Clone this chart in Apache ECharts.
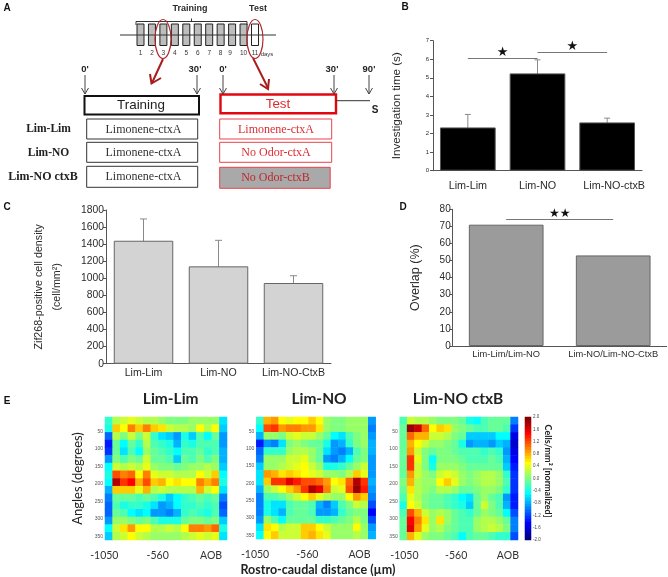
<!DOCTYPE html>
<html>
<head>
<meta charset="utf-8">
<style>html,body{margin:0;padding:0;background:#fff}#c{width:668px;height:577px}</style>
<script src="https://cdn.jsdelivr.net/npm/echarts@6/dist/echarts.min.js"></script>
</head>
<body>
<div id="c"></div>
<script>
// ---- Panel A labels
const dayLabels = ['1','2','3','4','5','6','7','8','9','10','11'];
const groupLabels = ['Lim-Lim','Lim-NO','Lim-NO ctxB'];
const trainingCells = ['Limonene-ctxA','Limonene-ctxA','Limonene-ctxA'];
const testCells = ['Limonene-ctxA','No Odor-ctxA','No Odor-ctxB'];

// ---- Panel B
const bCategories = ['Lim-Lim','Lim-NO','Lim-NO-ctxB'];
const bValues = [2.33,5.24,2.6];
const bErrorTops = [3.03,5.97,2.83];

// ---- Panel C
const cCategories = ['Lim-Lim','Lim-NO','Lim-NO-CtxB'];
const cValues = [1440,1140,945];
const cErrorTops = [1695,1445,1030];

// ---- Panel D
const dCategories = ['Lim-Lim/Lim-NO','Lim-NO/Lim-NO-CtxB'];
const dValues = [71,53];

// ---- Panel E (rows top to bottom, columns rostral to caudal; normalized cells/mm2)
const distanceLabels = ['-1050','','','','','','','-560','','','','','','','AOB',''];
const angleRows = ['0','22','45','67','90','112','135','157','180','202','225','247','270','292','315','337'];
const angleTicks = [50,100,150,200,250,300,350];
const scaleLevels = [2,1.9,1.8,1.7,1.6,1.5,1.4,1.3,1.2,1.1,1,.9,.8,.7,.6,.5,.4,.3,.2,.1,0,-.1,-.2,-.3,-.4,-.5,-.6,-.7,-.8,-.9,-1,-1.1,-1.2,-1.3,-1.4,-1.5,-1.6,-1.7,-1.8,-1.9,-2];
const heatLimLim = [
[-.3,.2,.3,.4,.3,.2,.2,.1,0,0,0,.1,.1,.1,.1,-.6],
[-.4,.7,.5,1,.7,1,.7,.6,.3,.2,.2,.1,.5,.2,.5,-.7],
[-1.1,.2,0,.3,0,.3,-.3,-.6,-.7,-.9,-.4,-.7,-.2,-.5,-.1,-.9],
[-1.4,-.1,-.5,-.1,-.3,.2,-.2,-.3,-.4,-.8,-.3,-.4,-.2,-.2,-.2,-.9],
[-1.3,-.1,-.6,-.2,-.5,.1,-.1,-.2,-.3,-.5,-.2,-.2,-.1,-.3,-.2,-.8],
[-.9,0,-.2,0,-.1,.3,-.1,-.1,-.2,-.7,-.1,-.2,0,-.2,0,-.8],
[-.5,.3,.2,.3,.2,.4,.1,0,0,-.1,0,.1,.1,.2,.1,-.7],
[-.4,1.2,1,1.1,.5,1,.4,.3,.3,.2,.2,.2,.5,.3,.7,-.5],
[-.5,1.8,1.3,1.5,.8,1.2,.7,.8,.5,.6,.5,.5,1,.8,1,-.4],
[-.8,.7,.7,.7,.4,.8,.2,.3,.2,.2,.2,.2,.8,.3,.5,-.6],
[-1,-.1,-.1,-.1,-.2,-.1,-.2,-.4,-.7,-.5,-.3,-.2,-.1,-.2,-.1,-1],
[-1.1,-.2,-.4,-.3,-.3,-.4,-.6,-.9,-.8,-.5,-.3,-.3,-.2,-.3,-.2,-1.2],
[-1.1,-.1,-.2,-.5,-.6,-.5,-.9,-.9,-1,-.8,-.3,-.2,-.3,-.4,-.2,-1.1],
[-.9,.1,.1,0,-.1,0,-.2,-.4,-.4,-.4,-.1,0,0,-.1,0,-.7],
[-.5,.3,.6,.9,.5,.5,.2,.2,.3,.2,.5,1,1,.9,1.1,-.4],
[-.7,.2,.3,.5,.3,.2,.1,.1,.1,.1,.2,.3,.4,.3,.4,-.6]];
const heatLimNO = [
[-.3,.8,.9,.5,.4,.5,.5,.7,.5,.1,0,0,.1,.1,.1,-.9],
[-.5,1.2,1.3,.9,1,1,.9,.9,.6,.1,0,0,.1,.1,.1,-1],
[-.8,.1,.1,0,.3,.4,.3,.3,.1,-.1,-.5,-.6,-.2,0,.1,-.9],
[-1.4,-.9,-1,-.6,0,.1,0,-.1,-.1,-.4,-.9,-.8,-.3,0,.1,-.8],
[-1.1,-.3,-.3,-.3,.1,.2,.2,.1,-.1,-.6,-.9,-1,-.8,-.2,0,-.8],
[-1,.1,.1,.1,.3,.3,.4,.1,-.1,-.9,-1,-.8,-.5,-.1,0,-.9],
[-.7,.1,.1,.2,.3,.4,.5,.3,.1,-.4,-.4,-.3,-.1,.1,.3,-.9],
[-.6,.9,.8,.6,.7,.6,.5,.4,.3,.1,.1,0,.2,.7,.4,-.9],
[-.6,.7,1.3,1.3,1.6,1.4,1.2,1.2,1.1,.9,.5,.6,1.1,1.8,1.3,-.8],
[-.8,.1,.3,.5,.7,.9,1.3,1.8,1.6,1,.3,.4,1.2,1.9,1.4,-.9],
[-1,-.2,-.2,-.1,.1,.3,.5,.7,.4,.2,.1,.1,.5,.9,.7,-1],
[-1,-.4,-.6,-.6,-.2,-.1,-.1,-.2,-.8,-1,-.7,-.2,0,.3,.2,-1.2],
[-1,-.4,-.6,-.8,-.2,-.1,-.1,-.2,-.9,-.9,-.8,-.3,-.1,0,0,-1.5],
[-.9,.1,-.2,-.5,-.1,-.1,-.1,-.1,-.3,-.3,-.2,-.1,0,.2,0,-1.2],
[-.6,.6,.5,.2,.3,.3,.7,.7,.5,.3,.1,.1,.1,.5,.1,-.9],
[-.5,.5,.7,.3,.3,.3,.7,.8,.6,.4,.1,.1,.1,.2,.1,-.8]];
const heatLimNOctxB = [
[-.2,.3,.2,.2,.1,0,0,0,-.1,-.4,-.5,-.2,-.1,-.1,-.1,-1],
[-.1,1.9,1.7,1.1,.5,.7,.6,.1,0,-.1,-.2,-.2,-.1,-.1,-.2,-1.3],
[-.1,1.1,.8,.8,.3,.3,.2,0,-.1,-.7,-.7,-.7,-.7,-.5,-.5,-1.6],
[-.1,.8,.5,.3,.1,.1,0,-.1,-.4,-.9,-.8,-.8,-.9,-.7,-.8,-1.7],
[-.1,.9,.3,0,-.1,0,0,-.1,-.2,-.2,-.2,-.3,-.2,-.3,-.9,-1.6],
[-.1,1.3,.4,0,-.5,0,0,0,-.1,-.2,-.2,-.2,-.1,-.2,-.8,-1.5],
[-.1,1.3,.3,0,-.4,.1,.1,.1,0,-.1,-.1,-.1,-.1,-.1,-.7,-1.4],
[-.1,.9,.3,.1,0,.3,.4,.3,.1,0,.1,.2,.2,.1,-.3,-1.3],
[0,.8,.2,.1,.1,.5,.7,.4,.1,0,.1,.2,.2,.1,-.2,-1.3],
[-.1,.6,.2,.1,0,.2,.2,.1,-.1,-.1,0,.1,.1,0,-.3,-1.3],
[-.2,.4,.2,0,-.1,-.1,-.2,-.3,-.5,-.6,-.1,.1,-.1,-.2,-.9,-1.4],
[-.4,.5,.3,0,-.1,-.1,-.2,-.3,-.4,-.7,-.1,.3,0,-.2,-.8,-1.4],
[-.2,1.2,.8,.3,.1,.2,.1,-.1,-.2,-.3,-.1,.1,0,-.1,-.5,-1.2],
[-.1,1.5,1,.6,.1,.6,.1,-.1,-.2,-.2,.1,.2,.2,.1,-.1,-1],
[-.1,1.6,.9,.4,.1,.2,0,-.1,-.2,-.2,.1,.2,.3,.2,0,-1],
[-.1,.8,.4,.1,0,0,-.1,-.2,-.5,-.2,-.1,-.1,-.2,-.3,-.3,-1.2]];
const heatTitles = ['Lim-Lim','Lim-NO','Lim-NO ctxB'];

const SANS = '"Liberation Sans",Arial,sans-serif';
const SERIF = '"Liberation Serif",serif';
const CAL = 'Lato,"Open Sans",sans-serif';
const DARK = '#2b2b2b';

// ---------- helpers for the schematic panel A
const g = [];
const text = (x,y,t,o={}) => g.push({type:'text',x,y,rotation:o.rot||0,z:o.z||10,style:{
  text:t,fill:o.fill||DARK,font:`${o.weight||'normal'} ${o.size||10}px ${o.family||SANS}`,
  textAlign:o.align||'center',textVerticalAlign:'middle'}});
const line = (x1,y1,x2,y2,stroke,w=1) => g.push({type:'line',z:5,shape:{x1,y1,x2,y2},style:{stroke,lineWidth:w}});
const rect = (x,y,w,h,stroke,lw,fill='#fff') => g.push({type:'rect',z:4,shape:{x,y,width:w,height:h},style:{stroke,lineWidth:lw,fill}});

// panel letters
[['A',7,8],['B',405,7],['C',7,207],['D',403,207],['E',7,401]].forEach(a=>text(a[1],a[2],a[0],{weight:'bold',size:10,family:SANS,fill:'#111'}));

// timeline
line(120,35,276,35,'#333',1);
dayLabels.forEach((d,i)=>{
  const x = 137 + i*11.45;
  rect(x,24,7,21.5,'#222',1, i===10?'#fff':'#bdbdbd');
  text(x+3.5+(i===8?-2:0),53.5,d,{size:6.5,fill:'#333'});
});
text(267,54,'days',{size:6,fill:'#333'});
g.push({type:'polyline',z:5,shape:{points:[[136,25],[136,21.5],[247,21.5],[247,25]]},style:{stroke:'#333',lineWidth:1,fill:'none'}});
line(191.5,21.5,191.5,18.5,'#333',1);
text(190,9,'Training',{weight:'bold',size:9,family:SANS});
text(258,9,'Test',{weight:'bold',size:9,family:SANS});
[[163,39],[255,39]].forEach(c=>g.push({type:'ellipse',z:6,shape:{cx:c[0],cy:c[1],rx:8,ry:19.5},style:{stroke:'#b3262b',lineWidth:1.2,fill:'none'}}));
// red arrows
const RED2='#a81c1c';
line(163,59,152,83,RED2,2);
g.push({type:'polyline',z:6,shape:{points:[[150,74],[151.5,83.5],[161,78]]},style:{stroke:RED2,lineWidth:2,fill:'none'}});
line(253,58,268,88,RED2,2);
g.push({type:'polyline',z:6,shape:{points:[[260,84],[268,89],[269,79]]},style:{stroke:RED2,lineWidth:2,fill:'none'}});
// time arrows
[[85,"0'"],[197,"30'"],[223,"0'"],[334,"30'"],[369,"90'"]].forEach(t=>{
  text(t[0]+(t[1]==="30'"?-2:0),69.5,t[1],{weight:'bold',size:9.5,family:SANS,fill:'#222'});
  line(t[0],75,t[0],94,'#444',1);
  g.push({type:'polyline',z:6,shape:{points:[[t[0]-3.5,88],[t[0],94],[t[0]+3.5,88]]},style:{stroke:'#444',lineWidth:1,fill:'none'}});
});
rect(84.5,96,114.5,18.5,'#111',2);
text(141,105.5,'Training',{size:13.4,fill:'#222'});
rect(220.5,94.5,115.5,18.8,'#e3060f',2.4);
text(278,104.5,'Test',{size:13.4,fill:'#e02a2a'});
line(336,100.7,370,100.7,'#333',1);
text(375,110,'S',{weight:'bold',size:10,fill:'#222'});
const rowY=[119,142.3,166.3], rowH=[20,20,21];
groupLabels.forEach((t,i)=>{
  text(i===2?43:48.5,rowY[i]+10.5,t,{weight:'bold',size:i===2?12:11.5,family:SERIF,fill:'#222'});
  rect(86.7,rowY[i],111,rowH[i],'#333',1);
  text(143.5,rowY[i]+10.5,trainingCells[i],{size:12,family:SERIF,fill:'#333'});
  const grey=i===2;
  rect(219.7,rowY[i]+(grey?1:0),grey?110.5:112,rowH[i],'#e8434a',1,grey?'#a9a9a9':'#fff');
  text(grey?275.5:276,rowY[i]+(grey?11.5:10.5),testCells[i],{size:12,family:SERIF,fill:grey?'#c0272d':'#dd2c33'});
});
text(548,471,'Cells/mm\u00B2 [normalized]',{rot:-Math.PI/2,size:9,family:CAL,fill:'#222',weight:'bold'});

// ---------- bar charts
const grids=[], xAxes=[], yAxes=[], series=[];
function errorSeries(idx,tops,color,cap){
  return {type:'custom',xAxisIndex:idx,yAxisIndex:idx,z:1,silent:true,
    data:tops.map((t,i)=>[i,t]),
    renderItem(p,api){
      const top=api.coord([api.value(0),api.value(1)]);
      const base=api.coord([api.value(0),0]);
      const st={stroke:color,lineWidth:1};
      return {type:'group',children:[
        {type:'line',shape:{x1:top[0],y1:top[1],x2:top[0],y2:base[1]},style:st},
        {type:'line',shape:{x1:top[0]-cap,y1:top[1],x2:top[0]+cap,y2:top[1]},style:st}]};
    }};
}
function barPanel(o){
  const i=grids.length;
  grids.push({left:o.l,top:o.t,width:o.w,height:o.h});
  xAxes.push({type:'category',gridIndex:i,data:o.cats,
    axisLine:{lineStyle:{color:'#555',width:1}},axisTick:{show:false},
    axisLabel:Object.assign({color:DARK,fontFamily:SANS,fontSize:o.catSize,margin:o.catMargin,interval:0},o.catExtra||{})});
  yAxes.push({type:'value',gridIndex:i,min:0,max:o.max,interval:o.step,
    name:o.name,nameLocation:'middle',nameGap:o.nameGap,
    nameTextStyle:{color:DARK,fontFamily:SANS,fontSize:o.nameSize,lineHeight:o.nameLH||14},
    axisLine:{show:true,lineStyle:{color:'#555',width:1}},axisTick:{show:true,length:o.tick,lineStyle:{color:'#555'}},
    splitLine:{show:false},
    axisLabel:{color:DARK,fontFamily:SANS,fontSize:o.tickSize,margin:o.tickMargin,formatter:v=>String(v)}});
  if(o.tops) series.push(errorSeries(i,o.tops,'#8a8a8a',o.cap));
  series.push({type:'bar',xAxisIndex:i,yAxisIndex:i,data:o.vals,barWidth:o.barW,z:2,silent:true,
    itemStyle:{color:o.fill,borderColor:o.border,borderWidth:o.bw},
    markLine:o.sig?{silent:true,symbol:'none',animation:false,lineStyle:{color:'#777',width:1,type:'solid'},
      label:{show:true,position:'middle',formatter:p=>p.name,color:'#111',fontSize:o.starSize,fontFamily:'"DejaVu Sans"',distance:-1},
      data:o.sig}:undefined});
}
barPanel({l:433,t:40.7,w:209,h:130,cats:bCategories,vals:bValues,tops:bErrorTops,max:7,step:1,
  fill:'#000',border:'#555',bw:1,barW:55.7,cap:3,catSize:10.8,catMargin:10,
  catExtra:{formatter:(v,i)=>i===2?`{r|${v}}`:v,rich:{r:{padding:[0,0,0,14],fontSize:10.8,fontFamily:SANS,color:DARK}}},
  tick:3,tickSize:6,tickMargin:4,name:'Investigation time (s)',nameGap:29,nameSize:11.6,starSize:13,
  sig:[[{name:'\u2605',coord:['Lim-Lim',6.07]},{coord:['Lim-NO',6.07]}],
       [{name:'\u2605',coord:['Lim-NO',6.4]},{coord:['Lim-NO-ctxB',6.4]}]]});
barPanel({l:106,t:210,w:225,h:153.7,cats:cCategories,vals:cValues,tops:cErrorTops,max:1800,step:200,
  fill:'#d3d3d3',border:'#666',bw:1,barW:59.5,cap:3.5,catSize:10.6,catMargin:4,
  tick:3,tickSize:10.3,tickMargin:2,name:'Zif268-positive cell density\n(cell/mm\u00B2)',nameGap:40,nameLH:18,nameSize:10.7});
barPanel({l:452.7,t:209.3,w:214,h:136.7,cats:dCategories,vals:dValues,max:80,step:10,
  fill:'#9b9b9b',border:'#666',bw:1,barW:74.7,catSize:9.3,catMargin:4,
  tick:3,tickSize:10,tickMargin:2,name:'Overlap (%)',nameGap:30,nameSize:12.5,starSize:12,
  sig:[[{name:'\u2605\u2605',coord:['Lim-Lim/Lim-NO',74.3]},{coord:['Lim-NO/Lim-NO-CtxB',74.3]}]]});

// ---------- heat maps
const heatGeom=[{l:105,w:122,pad:[0,9,0,0]},{l:256.3,w:119.4,pad:[0,10,0,0]},{l:399.7,w:118.3,pad:[0,0,0,2]}];
const heatSeries=[];
[heatLimLim,heatLimNO,heatLimNOctxB].forEach((m,k)=>{
  const i=grids.length, gm=heatGeom[k];
  grids.push({left:gm.l,top:417,width:gm.w,height:123});
  xAxes.push({type:'category',gridIndex:i,data:distanceLabels,
    axisLine:{show:false},axisTick:{show:false},splitArea:{show:false},
    name:k===1?'Rostro-caudal distance (\u00B5m)':'',nameLocation:'middle',nameGap:24,
    nameTextStyle:{fontFamily:CAL,fontWeight:'bold',fontSize:12.5,color:'#222',padding:[0,0,0,4]},
    axisLabel:{interval:0,color:'#333',fontFamily:CAL,fontSize:10.5,margin:10,padding:gm.pad}});
  const rowIdx=yAxes.length;
  yAxes.push({type:'category',gridIndex:i,data:angleRows,inverse:true,show:false});
  yAxes.push({type:'value',gridIndex:i,position:'left',inverse:true,min:9,max:361,
    name:k===0?'Angles (degrees)':'',nameLocation:'middle',nameGap:21,
    nameTextStyle:{fontFamily:CAL,fontSize:13,color:'#222'},
    axisLine:{show:false},splitLine:{show:false},
    axisTick:{show:true,length:0,customValues:angleTicks},
    axisLabel:{show:true,color:'#555',fontFamily:SANS,fontSize:5,margin:2,customValues:angleTicks,hideOverlap:false}});
  const data=[];
  m.forEach((row,r)=>row.forEach((v,c)=>data.push([c,r,v])));
  heatSeries.push(series.length);
  series.push({type:'heatmap',name:heatTitles[k],xAxisIndex:i,yAxisIndex:rowIdx,data,silent:true,progressive:0,itemStyle:{borderWidth:0}});
});

// ---------- colour scale, drawn as a one-column heat map of the scale levels
const csi=grids.length;
grids.push({left:525,top:417,width:6,height:123});
xAxes.push({type:'category',gridIndex:csi,data:[''],show:false});
const scaleIdx=yAxes.length;
yAxes.push({type:'category',gridIndex:csi,data:scaleLevels.map(String),inverse:true,show:false});
yAxes.push({type:'value',gridIndex:csi,position:'right',min:-2,max:2,interval:.4,
  axisLine:{show:false},axisTick:{show:false},splitLine:{show:false},
  axisLabel:{color:'#444',fontFamily:SANS,fontSize:4.5,margin:2,formatter:v=>v.toFixed(1)}});
heatSeries.push(series.length);
series.push({type:'heatmap',xAxisIndex:csi,yAxisIndex:scaleIdx,silent:true,progressive:0,
  data:scaleLevels.map((v,r)=>[0,r,v]),itemStyle:{borderWidth:0}});
const jet=['#00007f','#0000ff','#007fff','#00ffff','#7fff7f','#ffff00','#ff7f00','#ff0000','#7f0000'];

const titles=heatTitles.map((t,k)=>({text:t,left:[170.7,319,458][k],top:391,textAlign:'center',
  textStyle:{fontFamily:CAL,fontWeight:'bold',fontSize:15.5,color:'#222'},padding:0}));

const chart=echarts.init(document.getElementById('c'),null,{renderer:'canvas'});
chart.setOption({
  animation:false,backgroundColor:'#fff',
  title:titles,grid:grids,xAxis:xAxes,yAxis:yAxes,series,
  visualMap:{type:'continuous',seriesIndex:heatSeries,min:-2,max:2,calculable:false,show:false,
    inRange:{color:jet}},
  graphic:{elements:g}
});
</script>
</body>
</html>
